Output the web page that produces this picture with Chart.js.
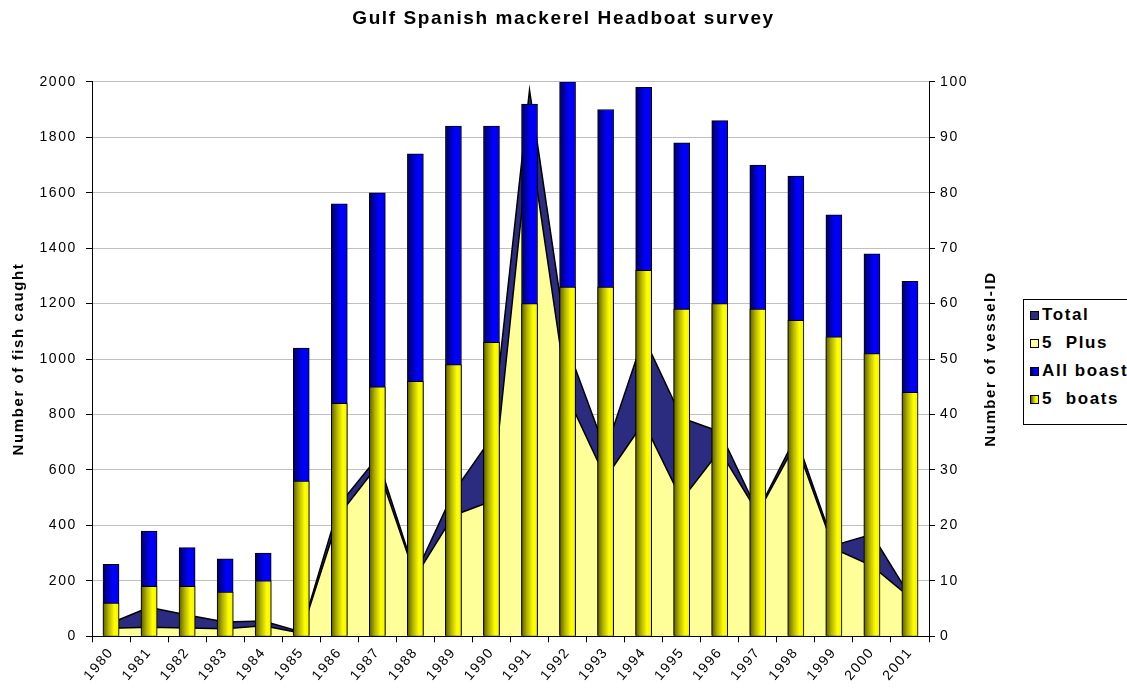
<!DOCTYPE html>
<html>
<head>
<meta charset="utf-8">
<title>Gulf Spanish mackerel Headboat survey</title>
<script src="https://cdn.jsdelivr.net/npm/chart.js@4.4.1/dist/chart.umd.min.js"></script>
<style>
    html, body { margin: 0; padding: 0; background: #fff; }
    #wrap { position: relative; width: 1127px; height: 698px; overflow: hidden; }
    #legend {
        position: absolute; left: 1023px; top: 299px; width: 130px; height: 126px;
        box-sizing: border-box; border: 1px solid #000; background: #fff;
        padding: 1px 0 0 6px;
        font: bold 17px "Liberation Sans", Arial, sans-serif; color: #000;
        letter-spacing: 1.6px;
    }
    .item { display: flex; align-items: center; height: 28px; white-space: pre; }
    .sw { width: 9px; height: 9px; box-sizing: border-box; border: 1px solid #000; margin-right: 3px; }
</style>
</head>
<body>
<div id="wrap">
    <canvas id="chart" width="1127" height="698"></canvas>
    <div id="legend"></div>
</div>
<script>
// Datos
const years = ['1980', '1981', '1982', '1983', '1984', '1985', '1986', '1987', '1988', '1989', '1990',
               '1991', '1992', '1993', '1994', '1995', '1996', '1997', '1998', '1999', '2000', '2001'];

// peces capturados (eje izquierdo)
const totalFish = [48, 105, 77, 52, 55, 16, 475, 645, 223, 519, 716,
                   1970, 1042, 670, 1080, 788, 738, 450, 720, 328, 368, 145];
const fivePlusFish = [29, 33, 30, 27, 38, 12, 438, 615, 215, 436, 487,
                      1800, 864, 571, 772, 492, 670, 445, 696, 316, 254, 140];

// barcos (eje derecho)
const allBoats = [13, 19, 16, 14, 15, 52, 78, 80, 87, 92, 92,
                  96, 100, 95, 99, 89, 93, 85, 83, 76, 69, 64];
const fiveBoats = [6, 9, 9, 8, 10, 28, 42, 45, 46, 49, 53,
                   60, 63, 63, 66, 59, 60, 59, 57, 54, 51, 44];

const fishTicks = { min: 0, max: 2000, step: 200 };
const boatTicks = { min: 0, max: 100, step: 10 };

const FONT = '"Liberation Sans", Arial, sans-serif';
const SPACING = '1.6px';
Chart.defaults.font.family = FONT;
Chart.defaults.color = '#000';

const yellowStops = [[0, '#5c5c00'], [0.35, '#b5b500'], [0.72, '#ffff00'], [1, '#f4f400']];
const blueStops = [[0, '#000060'], [0.6, '#0000ff'], [1, '#0000ee']];
const BAR_W = 16;

// degradado horizontal por barra
function barGradient(stops, fallback) {
    return (ctx) => {
        const chart = ctx.chart;
        if (!chart.chartArea || ctx.dataIndex === undefined) return fallback;
        const x = chart.scales.x.getPixelForValue(ctx.dataIndex);
        const g = chart.ctx.createLinearGradient(x - BAR_W / 2, 0, x + BAR_W / 2, 0);
        stops.forEach(([o, c]) => g.addColorStop(o, c));
        return g;
    };
}

// el texto del original es mas espaciado que Liberation Sans
const wideText = {
    id: 'wideText',
    beforeDraw(chart) {
        chart.ctx.letterSpacing = SPACING;
    }
};

// titulo del eje derecho, leido de abajo hacia arriba
const rightTitle = {
    id: 'rightTitle',
    afterDraw(chart) {
        const { ctx, chartArea } = chart;
        ctx.save();
        ctx.letterSpacing = SPACING;
        ctx.translate(chartArea.right + 62, (chartArea.top + chartArea.bottom) / 2);
        ctx.rotate(-Math.PI / 2);
        ctx.font = 'bold 15px ' + FONT;
        ctx.fillStyle = '#000';
        ctx.textAlign = 'center';
        ctx.textBaseline = 'middle';
        ctx.fillText('Number of vessel-ID', 0, 0);
        ctx.restore();
    }
};

const datasets = [
    {
        type: 'line', label: 'Total', data: totalFish, yAxisID: 'y', order: 4,
        borderColor: '#000', borderWidth: 1.5, backgroundColor: '#2b2b80',
        fill: 'origin', pointRadius: 0, tension: 0
    },
    {
        type: 'line', label: '5  Plus', data: fivePlusFish, yAxisID: 'y', order: 3,
        borderColor: '#000', borderWidth: 1.5, backgroundColor: '#ffff99',
        fill: 'origin', pointRadius: 0, tension: 0
    },
    {
        type: 'bar', label: 'All boast', data: allBoats, yAxisID: 'y1', order: 2,
        grouped: false, barThickness: BAR_W, borderColor: '#000', borderWidth: 1,
        backgroundColor: barGradient(blueStops, '#0000ff')
    },
    {
        type: 'bar', label: '5  boats', data: fiveBoats, yAxisID: 'y1', order: 1,
        grouped: false, barThickness: BAR_W, borderColor: '#000', borderWidth: 1,
        backgroundColor: barGradient(yellowStops, '#ffff00')
    }
];

const chart = new Chart(document.getElementById('chart'), {
    data: { labels: years, datasets: datasets },
    options: {
        responsive: false,
        animation: false,
        layout: { padding: { top: 7, right: 0, bottom: 17, left: 0 } },
        plugins: {
            legend: { display: false },
            tooltip: { enabled: false },
            title: {
                display: true,
                text: 'Gulf Spanish mackerel Headboat survey',
                color: '#000',
                font: { size: 19, weight: 'bold' },
                padding: { top: 0, bottom: 52 }
            }
        },
        scales: {
            x: {
                type: 'category',
                offset: true,
                grid: { offset: true, drawOnChartArea: false, tickLength: 6, tickColor: '#000' },
                border: { color: '#000', width: 1 },
                ticks: { minRotation: 50, maxRotation: 50, autoSkip: false, font: { size: 14 }, padding: 2 }
            },
            y: {
                position: 'left',
                min: fishTicks.min, max: fishTicks.max,
                afterFit: (scale) => { scale.width = 92; },
                ticks: { stepSize: fishTicks.step, font: { size: 14 }, padding: 9, callback: v => v },
                grid: { color: '#c0c0c0', tickColor: '#000', tickLength: 6 },
                border: { color: '#000', width: 1 },
                title: {
                    display: true, text: 'Number of fish caught',
                    font: { size: 15, weight: 'bold' },
                    padding: { top: 10, bottom: 10 }
                }
            },
            y1: {
                position: 'right',
                min: boatTicks.min, max: boatTicks.max,
                afterFit: (scale) => { scale.width = 198; },
                ticks: { stepSize: boatTicks.step, font: { size: 14 }, padding: 5, callback: v => v },
                grid: { drawOnChartArea: false, tickColor: '#000', tickLength: 6 },
                border: { color: '#000', width: 1 }
            }
        }
    },
    plugins: [wideText, rightTitle]
});

// leyenda en HTML, en el orden del original
const legendDiv = document.getElementById('legend');
legendDiv.innerHTML = datasets.map(ds => {
    let bg = ds.backgroundColor;
    if (typeof bg === 'function') {
        const stops = ds.label === 'All boast' ? blueStops : yellowStops;
        bg = 'linear-gradient(to right, ' + stops.map(([o, c]) => c + ' ' + (o * 100) + '%').join(', ') + ')';
    }
    return `<div class="item"><span class="sw" style="background:${bg}"></span>${ds.label}</div>`;
}).join('');
</script>
</body>
</html>
